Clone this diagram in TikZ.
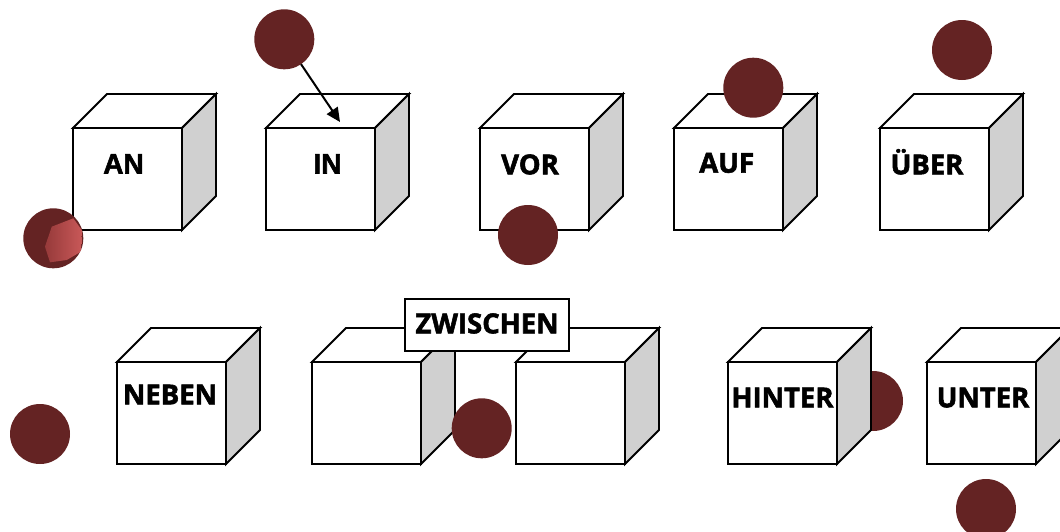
\documentclass[tikz,border=0pt]{standalone}
\usepackage{fontspec}
\setmainfont{Open Sans}
\newfontfamily\wordfont{Open Sans}[FakeBold=2]
\newfontfamily\arialfont{Liberation Sans}[FakeBold=2]
\usetikzlibrary{arrows.meta}
\definecolor{ballc}{RGB}{100,35,35}
\definecolor{sidec}{RGB}{208,208,208}
\definecolor{hiA}{RGB}{150,58,58}
\definecolor{hiB}{RGB}{200,88,88}
\tikzset{
  edge/.style={line width=1.9pt, line join=miter},
  front/.style={draw, line width=1.9pt, fill=white, minimum width=109pt, minimum height=102pt, inner sep=0pt, outer sep=0pt, anchor=north west},
  ballnode/.style={circle, fill=ballc, minimum size=60pt, inner sep=0pt, outer sep=0pt},
  word/.style={font=\wordfont\bfseries\fontsize{27.5}{28}\selectfont, anchor=base, inner sep=0pt},
  aword/.style={font=\arialfont\bfseries\fontsize{28}{28}\selectfont, anchor=base, inner sep=0pt},
  tagbox/.style={draw, line width=1.6pt, fill=white, minimum width=164pt, minimum height=52pt, inner sep=0pt},
  pointer/.style={line width=2pt, -{Triangle[length=14pt,width=13pt]}},
}
\newcommand\cubeat[2]{%
  \node[front] (#1) at (#2) {};
  \draw[edge, fill=white] (#1.north west) -- ++(34,-34) -- ++(109,0) -- (#1.north east) -- cycle;
  \draw[edge, fill=sidec] (#1.north east) -- ++(34,-34) -- ++(0,102) -- (#1.south east) -- cycle;
}
\begin{document}
\begin{tikzpicture}[x=1pt,y=-1pt]
\useasboundingbox (0,0) rectangle (1060,531);
\clip (0,0) rectangle (1060,531);
% ball behind HINTER
\node[ballnode] (bHINTER) at (873,401) {};
% cubes
\cubeat{cAN}{73,128}
\cubeat{cIN}{266,128}
\cubeat{cVOR}{480,128}
\cubeat{cAUF}{674,128}
\cubeat{cUEBER}{880,128}
\cubeat{cNEBEN}{117,362}
\cubeat{cZL}{312,362}
\cubeat{cZR}{516,362}
\cubeat{cHINTER}{728,362}
\cubeat{cUNTER}{927,362}
% balls
\node[ballnode] (bAN) at (53.3,238.3) {};
\begin{scope}
  \clip (53.3,238.3) circle (30pt);
  \shade[left color=hiA, right color=hiB] (51.7,226.7) -- (73.3,218.3) -- (81.7,230) -- (81,251.7) -- (66.7,260) -- (50,262.3) -- (45,246.7) -- cycle;
\end{scope}
\node[ballnode] (bIN) at (284.3,39.3) {};
\node[ballnode] (bVOR) at (528,235) {};
\node[ballnode] (bAUF) at (753.3,87.7) {};
\node[ballnode] (bUEBER) at (962,50) {};
\node[ballnode] (bNEBEN) at (40,434) {};
\node[ballnode] (bZ) at (481.7,428.3) {};
\node[ballnode] (bUNTER) at (986,509) {};
% zwischen tag
\node[tagbox] (tZ) at (487,325) {};
% words
\node[aword] (wAN) at (123.5,173.5) {AN};
\node[aword] (wIN) at (327.5,173.5) {IN};
\node[word] (wVOR) at (530,174.3) {VOR};
\node[word] (wAUF) at (726.7,172.7) {AUF};
\node[word] (wUEBER) at (927,174.3) {ÜBER};
\node[word] (wNEBEN) at (170,404.3) {NEBEN};
\node[word] (wZ) at (487,333.3) {ZWISCHEN};
\node[word] (wHINTER) at (782.5,407.3) {HINTER};
\node[word] (wUNTER) at (983,407.3) {UNTER};
% arrow
\coordinate (inTarget) at (340,122);
\draw[pointer] (bIN) -- (inTarget);
\end{tikzpicture}
\end{document}
